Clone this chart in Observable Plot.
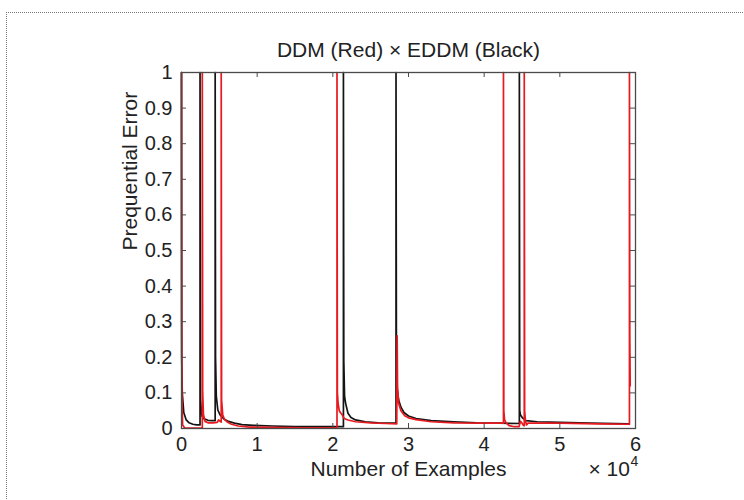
<!DOCTYPE html>
<html>
<head>
<meta charset="utf-8">
<script src="https://cdn.jsdelivr.net/npm/d3@7"></script>
<script src="https://cdn.jsdelivr.net/npm/@observablehq/plot@0.6"></script>
<style>
  html, body { margin: 0; padding: 0; background: #fff; }
  #wrap { position: relative; width: 744px; height: 500px; overflow: hidden; }
  #border { position: absolute; left: 6px; top: 12px; width: 760px; height: 520px;
            border-top: 1px dotted #777; border-left: 1px dotted #777; pointer-events: none; }
  #chart { position: absolute; left: 0; top: 0; }
</style>
</head>
<body>
<div id="wrap"><div id="chart"></div><div id="border"></div></div>
<script>
// Title and labels
const titleText = "DDM (Red) \u00d7 EDDM (Black)";
const xLabel = "Number of Examples";
const yLabel = "Prequential Error";
const xMultiplier = "\u00d7 10";
const xExponent = "4";

// Tick values and labels
const xTicks = [0, 1, 2, 3, 4, 5, 6];
const xTickLabels = ["0", "1", "2", "3", "4", "5", "6"];
const yTicks = [0, 0.1, 0.2, 0.3, 0.4, 0.5, 0.6, 0.7, 0.8, 0.9, 1];
const yTickLabels = ["0", "0.1", "0.2", "0.3", "0.4", "0.5", "0.6", "0.7", "0.8", "0.9", "1"];

// EDDM (black): [examples ×10^4, prequential error]
const eddm = [
  [0, 1], [0.003, 0.2], [0.01, 0.1], [0.03, 0.045], [0.06, 0.025], [0.1, 0.016], [0.15, 0.012], [0.2, 0.01], [0.245, 0.01],
  [0.245, 1], [0.25, 0.08], [0.27, 0.035], [0.3, 0.027], [0.35, 0.023], [0.4, 0.022], [0.445, 0.022],
  [0.445, 1], [0.45, 0.2], [0.46, 0.09], [0.48, 0.052], [0.51, 0.038], [0.56, 0.027], [0.62, 0.02], [0.7, 0.015],
  [0.8, 0.011], [0.95, 0.009], [1.2, 0.007], [1.5, 0.005], [1.8, 0.005], [2.14, 0.005],
  [2.14, 1], [2.145, 0.19], [2.155, 0.09], [2.17, 0.07], [2.2, 0.043], [2.24, 0.031], [2.3, 0.024], [2.43, 0.019],
  [2.6, 0.016], [2.835, 0.015],
  [2.835, 1], [2.84, 0.25], [2.85, 0.11], [2.87, 0.08], [2.9, 0.06], [2.94, 0.045], [3.0, 0.035], [3.1, 0.028],
  [3.3, 0.022], [3.6, 0.019], [3.9, 0.016], [4.2, 0.015], [4.465, 0.014],
  [4.465, 1], [4.47, 0.05], [4.48, 0.038], [4.51, 0.029], [4.55, 0.022], [4.7, 0.019], [5.0, 0.017], [5.4, 0.015], [5.91, 0.013]
];

// DDM (red): [examples ×10^4, prequential error]
const ddm = [
  [0, 1], [0.002, 0.3], [0.006, 0.08], [0.015, 0.01], [0.04, 0.002], [0.15, 0.001], [0.275, 0.001],
  [0.275, 1], [0.28, 0.1], [0.29, 0.04], [0.31, 0.02], [0.35, 0.016], [0.42, 0.016], [0.47, 0.017], [0.49, 0.024],
  [0.51, 0.02], [0.525, 0.018],
  [0.525, 1], [0.53, 0.08], [0.545, 0.038], [0.57, 0.025], [0.6, 0.019], [0.66, 0.012], [0.75, 0.007], [0.9, 0.004],
  [1.2, 0.003], [1.6, 0.002], [2.055, 0.002],
  [2.055, 1], [2.06, 0.1], [2.07, 0.07], [2.085, 0.05], [2.1, 0.045], [2.12, 0.04], [2.15, 0.028], [2.2, 0.024],
  [2.3, 0.019], [2.5, 0.016], [2.7, 0.014], [2.845, 0.013],
  [2.85, 0.26], [2.855, 0.12], [2.87, 0.07], [2.9, 0.05], [2.95, 0.036], [3.0, 0.03], [3.1, 0.025], [3.3, 0.019],
  [3.6, 0.016], [4.0, 0.015], [4.255, 0.015],
  [4.255, 1], [4.26, 0.05], [4.27, 0.024], [4.29, 0.016], [4.33, 0.008], [4.4, 0.005], [4.46, 0.005], [4.48, 0.02],
  [4.5, 0.015], [4.52, 0.008], [4.53, 0.008],
  [4.53, 1], [4.535, 0.05], [4.545, 0.024], [4.56, 0.01], [4.58, 0.015], [4.7, 0.015], [5.0, 0.015], [5.5, 0.013],
  [5.92, 0.012],
  [5.92, 1], [5.925, 0.25], [5.93, 0.12]
];

const axisColor = "#4a4a4a";
const textColor = "#222";
const font = "'Liberation Sans', Arial, Helvetica, sans-serif";

const chart = Plot.plot({
  width: 744,
  height: 500,
  marginLeft: 181,
  marginRight: 109,
  marginTop: 72,
  marginBottom: 72,
  style: { fontFamily: font, fontSize: "20px", color: textColor, background: "transparent", overflow: "visible" },
  x: { domain: [0, 6], axis: null },
  y: { domain: [0, 1], axis: null },
  marks: [
    Plot.line(eddm, { x: d => d[0], y: d => d[1], stroke: "#141414", strokeWidth: 1.7 }),
    Plot.line(ddm, { x: d => d[0], y: d => d[1], stroke: "#e8191f", strokeWidth: 1.7 }),
    Plot.frame({ stroke: axisColor, strokeWidth: 1.3 }),
    // inward ticks on all four sides
    Plot.tickX(xTicks, { x: d => d, insetTop: 351, stroke: axisColor }),
    Plot.tickX(xTicks, { x: d => d, insetBottom: 351, stroke: axisColor }),
    Plot.tickY(yTicks, { y: d => d, insetRight: 449, stroke: axisColor }),
    Plot.tickY(yTicks, { y: d => d, insetLeft: 449, stroke: axisColor }),
    // tick labels
    Plot.text(xTicks, { x: d => d, text: (d, i) => xTickLabels[i], frameAnchor: "bottom", dy: 15.6,
      lineAnchor: "middle", textAnchor: "middle", fontSize: 20, fill: textColor }),
    Plot.text(yTicks, { y: d => d, text: (d, i) => yTickLabels[i], frameAnchor: "left", dx: -9,
      lineAnchor: "middle", textAnchor: "end", fontSize: 20, fill: textColor }),
    // title and axis labels
    Plot.text([titleText], { text: d => d, frameAnchor: "top", dy: -22.7, lineAnchor: "middle", fontSize: 21, fill: textColor }),
    Plot.text([xLabel], { text: d => d, frameAnchor: "bottom", dy: 40.3, lineAnchor: "middle", fontSize: 21, fill: textColor }),
    Plot.text([yLabel], { text: d => d, frameAnchor: "left", dx: -51, rotate: -90, lineAnchor: "middle", fontSize: 21, fill: textColor }),
    Plot.text([xMultiplier], { text: d => d, frameAnchor: "bottom-right", dx: -47, dy: 40.3, textAnchor: "start",
      lineAnchor: "middle", fontSize: 21, fill: textColor }),
    Plot.text([xExponent], { text: d => d, frameAnchor: "bottom-right", dx: -5, dy: 33.5, textAnchor: "start",
      lineAnchor: "middle", fontSize: 14, fill: textColor })
  ]
});
document.getElementById("chart").appendChild(chart);
</script>
</body>
</html>
